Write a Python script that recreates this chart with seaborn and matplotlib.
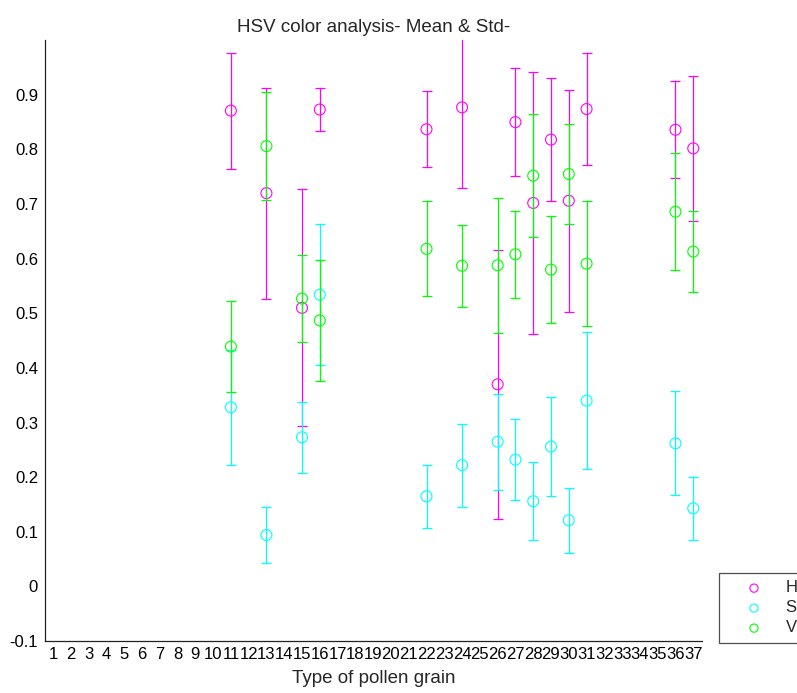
import matplotlib
matplotlib.use("Agg")
import matplotlib.pyplot as plt
import pandas as pd
import seaborn as sns

# tipos de grão de pólen com medição
grains = [11, 13, 15, 16, 22, 24, 26, 27, 28, 29, 30, 31, 36, 37]

h_mean = [0.871, 0.720, 0.510, 0.873, 0.837, 0.877, 0.370, 0.850, 0.702, 0.818, 0.706, 0.874, 0.836, 0.802]
h_std = [0.106, 0.193, 0.217, 0.040, 0.070, 0.147, 0.246, 0.099, 0.239, 0.112, 0.203, 0.102, 0.089, 0.133]

s_mean = [0.328, 0.094, 0.273, 0.534, 0.165, 0.222, 0.265, 0.232, 0.156, 0.256, 0.121, 0.340, 0.262, 0.143]
s_std = [0.105, 0.052, 0.065, 0.129, 0.058, 0.076, 0.088, 0.074, 0.071, 0.090, 0.060, 0.125, 0.095, 0.058]

v_mean = [0.439, 0.806, 0.527, 0.487, 0.618, 0.587, 0.588, 0.608, 0.752, 0.580, 0.755, 0.591, 0.686, 0.613]
v_std = [0.084, 0.099, 0.079, 0.111, 0.087, 0.075, 0.124, 0.080, 0.112, 0.098, 0.092, 0.114, 0.107, 0.074]

channels = ["H", "S", "V"]
cores = {"H": "#ff00ff", "S": "#00ffff", "V": "#00ff00"}

linhas = []
for canal, medias, desvios in zip(channels, [h_mean, s_mean, v_mean], [h_std, s_std, v_std]):
    for g, m, d in zip(grains, medias, desvios):
        linhas.append({"grain": g, "mean": m, "std": d, "canal": canal})
df = pd.DataFrame(linhas)

sns.set_style("white")
plt.rcParams["font.family"] = ["Liberation Sans", "DejaVu Sans"]

fig = plt.figure(figsize=(7.97, 6.93), dpi=100)
ax = fig.add_axes([0.0565, 0.075, 0.8245, 0.867])

for i, canal in enumerate(channels):
    sub = df[df["canal"] == canal]
    ax.errorbar(
        sub["grain"], sub["mean"], yerr=sub["std"],
        fmt="none", ecolor=cores[canal], elinewidth=0.9,
        capsize=3.4, capthick=0.9, zorder=3 + 2 * i,
    )
    sns.scatterplot(
        data=sub, x="grain", y="mean", ax=ax,
        facecolor="none", edgecolor=cores[canal], s=62,
        linewidth=0.8, marker="o", label=canal, zorder=4 + 2 * i,
    )

ax.set_xlim(0.55, 37.5)
ax.set_ylim(-0.1, 1.0)
ax.set_xticks(range(1, 38))
ax.set_yticks([-0.1, 0, 0.1, 0.2, 0.3, 0.4, 0.5, 0.6, 0.7, 0.8, 0.9])
ax.set_yticklabels(["-0.1", "0", "0.1", "0.2", "0.3", "0.4", "0.5", "0.6", "0.7", "0.8", "0.9"])
ax.tick_params(axis="both", direction="in", length=5, width=0.8, color="#222222",
               labelsize=12, labelcolor="black")
ax.tick_params(axis="x", pad=4)
ax.tick_params(axis="y", pad=5)

sns.despine(ax=ax)
for lado in ["left", "bottom"]:
    ax.spines[lado].set_color("#222222")
    ax.spines[lado].set_linewidth(0.9)

ax.set_title("HSV color analysis- Mean & Std-", fontsize=13.5, pad=6)
ax.set_xlabel("Type of pollen grain", fontsize=13.5, labelpad=6)
ax.set_ylabel("")

leg = ax.legend(
    loc="lower left", bbox_to_anchor=(719 / 797, 50 / 693), bbox_transform=fig.transFigure,
    borderaxespad=0, fancybox=False, frameon=True, fontsize=12,
    handlelength=3.3, handletextpad=0.25, borderpad=0.45, labelspacing=0.3,
    markerscale=0.75,
)
leg.get_frame().set_edgecolor("#222222")
leg.get_frame().set_linewidth(0.9)

fig.savefig("out.png", dpi=100)
